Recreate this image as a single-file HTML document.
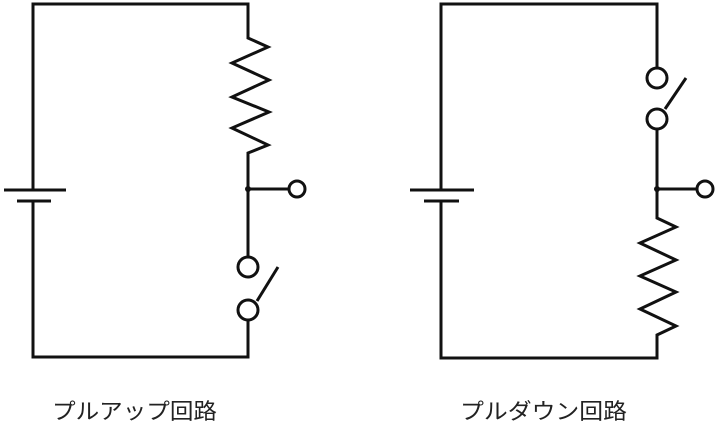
<!DOCTYPE html>
<html><head><meta charset="utf-8"><style>
html,body{margin:0;padding:0;background:#fff;}
svg{display:block;}
</style></head><body>
<svg width="720" height="432" viewBox="0 0 720 432" xmlns="http://www.w3.org/2000/svg">
<g fill="none" stroke="#111" stroke-width="3" stroke-linejoin="miter">
<!-- left circuit -->
<polyline points="33,190 33,4 248,4 248,38 268,47 232,63 269,80 232,97 269,112 232,128 268,145 248,153 248,257"/>
<polyline points="248,320 248,357 33,357 33,201"/>
<line x1="4" y1="190" x2="66" y2="190"/>
<line x1="17" y1="201" x2="51" y2="201"/>
<line x1="248" y1="189" x2="288" y2="189"/>
<circle cx="297" cy="189" r="8"/>
<circle cx="248" cy="267" r="10"/>
<circle cx="248" cy="310" r="10"/>
<line x1="257" y1="301" x2="278" y2="267"/>
<!-- right circuit -->
<polyline points="441,190 441,4 657,4 657,68"/>
<polyline points="657,129 657,218 676,227 640,243 676,260 640,276 676,292 640,309 676,326 657,335 657,358 441,358 441,201"/>
<line x1="410" y1="190" x2="474" y2="190"/>
<line x1="424" y1="201" x2="459" y2="201"/>
<line x1="657" y1="189" x2="697" y2="189"/>
<circle cx="705" cy="189" r="8"/>
<circle cx="657" cy="78" r="10"/>
<circle cx="657" cy="119" r="10"/>
<line x1="665" y1="109" x2="686" y2="78"/>
</g>
<circle cx="248" cy="189" r="3" fill="#111"/>
<circle cx="657" cy="189" r="3" fill="#111"/>
<g font-family="'Liberation Sans','Noto Sans CJK JP',sans-serif" font-size="22" fill="#222">
<text x="52" y="419" textLength="165" lengthAdjust="spacingAndGlyphs">プルアップ回路</text>
<text x="460" y="419" textLength="167" lengthAdjust="spacingAndGlyphs">プルダウン回路</text>
</g>
</svg>
</body></html>
